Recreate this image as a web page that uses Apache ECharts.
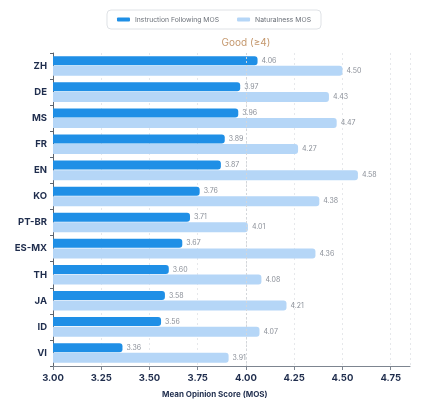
<!DOCTYPE html>
<html>
<head>
<meta charset="utf-8">
<script src="https://cdn.jsdelivr.net/npm/echarts@6/dist/echarts.min.js"></script>
<style>
  html, body { margin: 0; padding: 0; background: #fff; }
  #chart { width: 428px; height: 408px; }
</style>
</head>
<body>
<div id="chart"></div>
<script>
// languages, top to bottom
const languages = ['ZH', 'DE', 'MS', 'FR', 'EN', 'KO', 'PT-BR', 'ES-MX', 'TH', 'JA', 'ID', 'VI']
const instructionMos = [4.06, 3.97, 3.96, 3.89, 3.87, 3.76, 3.71, 3.67, 3.60, 3.58, 3.56, 3.36]
const naturalnessMos = [4.50, 4.43, 4.47, 4.27, 4.58, 4.38, 4.01, 4.36, 4.08, 4.21, 4.07, 3.91]
const xTicks = { min: 3, max: 4.85, step: 0.25 }

const font = 'Inter, "Noto Sans", sans-serif'
const chart = echarts.init(document.getElementById('chart'))

const barLabel = {
  show: true,
  position: 'right',
  distance: 4,
  color: '#8a8f98',
  fontSize: 7,
  fontFamily: font,
  formatter: p => p.value.toFixed(2)
}

chart.setOption({
  animation: false,
  textStyle: { fontFamily: font },
  legend: {
    top: 10,
    left: 'center',
    itemWidth: 13,
    itemHeight: 4,
    itemGap: 18,
    padding: [6, 10],
    borderColor: '#dfe2e6',
    borderWidth: 1,
    borderRadius: 4,
    textStyle: { color: '#6b7078', fontSize: 6.8, fontFamily: font },
    data: ['Instruction Following MOS', 'Naturalness MOS']
  },
  grid: { left: 53, right: 18, top: 53, bottom: 42 },
  xAxis: {
    type: 'value',
    min: xTicks.min,
    max: xTicks.max,
    interval: xTicks.step,
    axisLine: { show: true, lineStyle: { color: '#7d8590' } },
    axisTick: { show: true, length: 4, lineStyle: { color: '#7d8590' } },
    axisLabel: {
      color: '#1f2d4d',
      fontSize: 9.5,
      fontWeight: 'bold',
      fontFamily: font,
      margin: 7,
      showMaxLabel: false,
      formatter: v => v.toFixed(2)
    },
    splitLine: { show: true, lineStyle: { color: '#e6e8eb', type: [2, 3] } }
  },
  yAxis: {
    type: 'category',
    inverse: true,
    data: languages,
    axisLine: { show: true, lineStyle: { color: '#5d6570' } },
    axisTick: { show: true, length: 3, lineStyle: { color: '#5d6570' } },
    axisLabel: { color: '#1f2d4d', fontSize: 9.5, fontWeight: 'bold', fontFamily: font, margin: 6 }
  },
  graphic: [{
    type: 'text',
    left: 162,
    top: 391,
    style: { text: 'Mean Opinion Score (MOS)', fill: '#1f2d4d', fontSize: 8, fontWeight: 'bold', fontFamily: font }
  }],
  series: [
    {
      name: 'Instruction Following MOS',
      type: 'bar',
      data: instructionMos,
      barWidth: 9,
      barGap: '6%',
      itemStyle: { color: '#1f8fe6', borderRadius: [0, 3, 3, 0] },
      label: barLabel,
      markLine: {
        silent: true,
        symbol: 'none',
        lineStyle: { color: '#d3d6da', type: [2, 2], width: 1 },
        label: { show: true, position: 'start', formatter: 'Good (≥4)', color: '#c4976c', fontSize: 10, fontFamily: font, distance: 5 },
        data: [{ xAxis: 4 }]
      }
    },
    {
      name: 'Naturalness MOS',
      type: 'bar',
      data: naturalnessMos,
      barWidth: 10,
      itemStyle: { color: '#b5d6f7', borderRadius: [0, 3, 3, 0] },
      label: barLabel
    }
  ]
})
</script>
</body>
</html>
